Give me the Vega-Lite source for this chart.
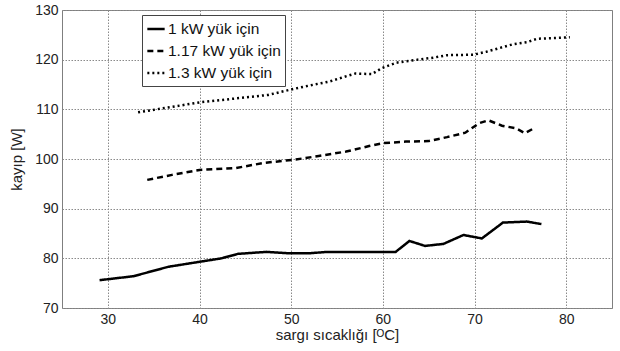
{
  "$schema": "https://vega.github.io/schema/vega-lite/v6.json",
  "width": 550,
  "height": 298,
  "autosize": {"type": "none"},
  "padding": {"left": 62, "top": 10, "right": 8, "bottom": 43},
  "background": "white",
  "config": {
    "view": {"stroke": "#7f7f7f", "strokeWidth": 1},
    "font": "Liberation Sans",
    "axis": {
      "labelFont": "Liberation Sans",
      "titleFont": "Liberation Sans",
      "labelColor": "#222",
      "titleColor": "#222",
      "labelFontSize": 14,
      "titleFontSize": 15,
      "titleFontWeight": "normal",
      "domain": false,
      "ticks": false,
      "grid": true,
      "gridColor": "#8a8a8a",
      "gridDash": [1.5, 1.5],
      "gridWidth": 1
    }
  },
  "data": {
    "values": [
      {"s": "1 kW yük için", "t": 29.1, "p": 75.6},
      {"s": "1 kW yük için", "t": 32.8, "p": 76.4},
      {"s": "1 kW yük için", "t": 36.6, "p": 78.3},
      {"s": "1 kW yük için", "t": 40.0, "p": 79.3},
      {"s": "1 kW yük için", "t": 42.4, "p": 80.0},
      {"s": "1 kW yük için", "t": 44.2, "p": 80.9},
      {"s": "1 kW yük için", "t": 47.3, "p": 81.3},
      {"s": "1 kW yük için", "t": 49.9, "p": 81.0},
      {"s": "1 kW yük için", "t": 51.9, "p": 81.0},
      {"s": "1 kW yük için", "t": 53.9, "p": 81.3},
      {"s": "1 kW yük için", "t": 61.4, "p": 81.3},
      {"s": "1 kW yük için", "t": 62.9, "p": 83.5},
      {"s": "1 kW yük için", "t": 64.6, "p": 82.5},
      {"s": "1 kW yük için", "t": 66.6, "p": 82.9},
      {"s": "1 kW yük için", "t": 68.8, "p": 84.7},
      {"s": "1 kW yük için", "t": 70.8, "p": 84.0},
      {"s": "1 kW yük için", "t": 73.1, "p": 87.2},
      {"s": "1 kW yük için", "t": 75.7, "p": 87.4},
      {"s": "1 kW yük için", "t": 77.3, "p": 86.9},
      {"s": "1.17 kW yük için", "t": 34.3, "p": 95.8},
      {"s": "1.17 kW yük için", "t": 37.0, "p": 96.8},
      {"s": "1.17 kW yük için", "t": 40.0, "p": 97.8},
      {"s": "1.17 kW yük için", "t": 44.0, "p": 98.2},
      {"s": "1.17 kW yük için", "t": 47.0, "p": 99.2},
      {"s": "1.17 kW yük için", "t": 50.5, "p": 99.9},
      {"s": "1.17 kW yük için", "t": 53.0, "p": 100.6},
      {"s": "1.17 kW yük için", "t": 56.0, "p": 101.5},
      {"s": "1.17 kW yük için", "t": 58.5, "p": 102.6},
      {"s": "1.17 kW yük için", "t": 60.0, "p": 103.2},
      {"s": "1.17 kW yük için", "t": 62.5, "p": 103.5},
      {"s": "1.17 kW yük için", "t": 65.0, "p": 103.6},
      {"s": "1.17 kW yük için", "t": 67.0, "p": 104.4},
      {"s": "1.17 kW yük için", "t": 69.0, "p": 105.3},
      {"s": "1.17 kW yük için", "t": 70.5, "p": 107.2},
      {"s": "1.17 kW yük için", "t": 71.5, "p": 107.8},
      {"s": "1.17 kW yük için", "t": 73.0, "p": 106.7},
      {"s": "1.17 kW yük için", "t": 74.5, "p": 106.2},
      {"s": "1.17 kW yük için", "t": 75.5, "p": 105.2},
      {"s": "1.17 kW yük için", "t": 76.6, "p": 106.3},
      {"s": "1.3 kW yük için", "t": 33.3, "p": 109.4},
      {"s": "1.3 kW yük için", "t": 37.0, "p": 110.5},
      {"s": "1.3 kW yük için", "t": 40.0, "p": 111.4},
      {"s": "1.3 kW yük için", "t": 42.5, "p": 111.9},
      {"s": "1.3 kW yük için", "t": 45.0, "p": 112.4},
      {"s": "1.3 kW yük için", "t": 47.5, "p": 112.9},
      {"s": "1.3 kW yük için", "t": 50.0, "p": 114.0},
      {"s": "1.3 kW yük için", "t": 52.0, "p": 114.8},
      {"s": "1.3 kW yük için", "t": 54.2, "p": 115.6},
      {"s": "1.3 kW yük için", "t": 55.7, "p": 116.5},
      {"s": "1.3 kW yük için", "t": 57.0, "p": 117.2},
      {"s": "1.3 kW yük için", "t": 58.8, "p": 117.1},
      {"s": "1.3 kW yük için", "t": 59.9, "p": 118.3},
      {"s": "1.3 kW yük için", "t": 61.5, "p": 119.4},
      {"s": "1.3 kW yük için", "t": 63.0, "p": 119.8},
      {"s": "1.3 kW yük için", "t": 65.5, "p": 120.4},
      {"s": "1.3 kW yük için", "t": 67.0, "p": 120.9},
      {"s": "1.3 kW yük için", "t": 69.9, "p": 121.0},
      {"s": "1.3 kW yük için", "t": 71.3, "p": 121.6},
      {"s": "1.3 kW yük için", "t": 74.2, "p": 123.1},
      {"s": "1.3 kW yük için", "t": 75.7, "p": 123.5},
      {"s": "1.3 kW yük için", "t": 76.8, "p": 124.2},
      {"s": "1.3 kW yük için", "t": 80.4, "p": 124.5}
    ]
  },
  "mark": {"type": "line", "color": "black", "strokeWidth": 2.5},
  "encoding": {
    "x": {
      "field": "t",
      "type": "quantitative",
      "scale": {"domain": [25, 85], "nice": false, "zero": false},
      "axis": {"values": [30, 40, 50, 60, 70, 80], "title": "sargı sıcaklığı [ᴼC]", "labelPadding": 4, "titlePadding": 1}
    },
    "y": {
      "field": "p",
      "type": "quantitative",
      "scale": {"domain": [70, 130], "nice": false, "zero": false},
      "axis": {"values": [70, 80, 90, 100, 110, 120, 130], "title": "kayıp [W]", "labelPadding": 4, "titlePadding": 10}
    },
    "strokeDash": {
      "field": "s",
      "type": "nominal",
      "scale": {
        "domain": ["1 kW yük için", "1.17 kW yük için", "1.3 kW yük için"],
        "range": [[1, 0], [6, 4], [2, 3]]
      },
      "legend": {
        "title": null,
        "orient": "none",
        "legendX": 80,
        "legendY": 5,
        "direction": "vertical",
        "symbolType": "stroke",
        "symbolStrokeWidth": 2.5,
        "symbolSize": 300,
        "symbolStrokeColor": "black",
        "labelFont": "Liberation Sans",
        "labelFontSize": 15.5,
        "labelColor": "#111",
        "labelOffset": 2,
        "rowPadding": 3,
        "padding": 4,
        "strokeColor": "#444",
        "fillColor": "white"
      }
    }
  }
}
